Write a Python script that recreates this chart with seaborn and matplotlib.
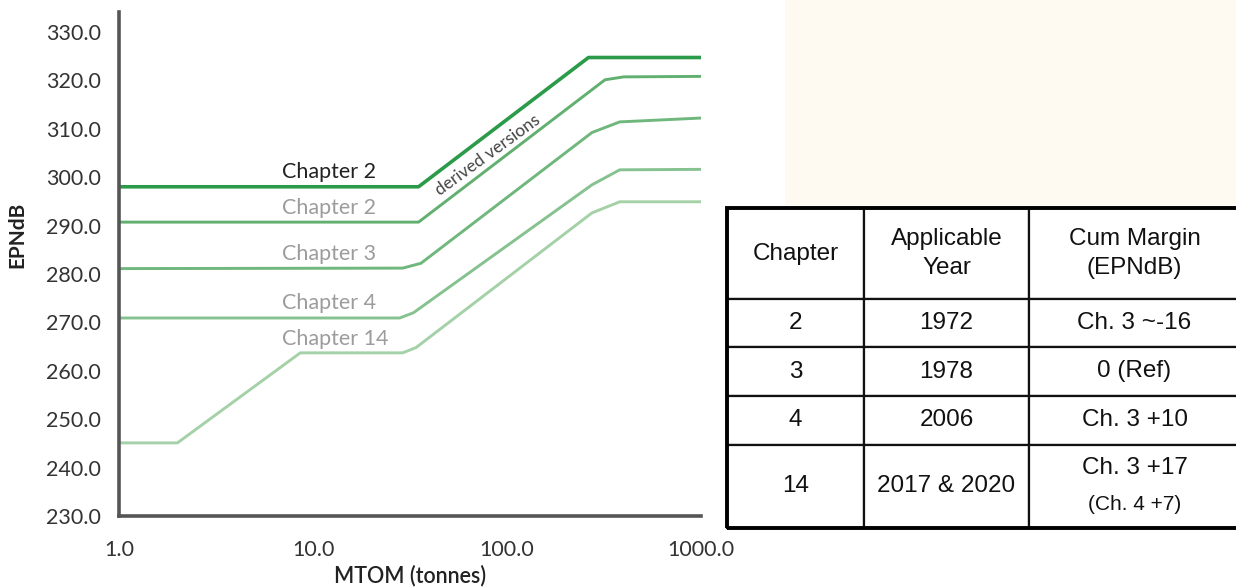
import matplotlib
matplotlib.use('Agg')
import matplotlib.pyplot as plt
import matplotlib.patches as mpatches
from matplotlib.ticker import FixedLocator, FuncFormatter, NullLocator
import seaborn as sns
import pandas as pd

# noise limit lines (MTOM in tonnes, limit in EPNdB)
ch2_old_mtom = [1, 35, 263, 1000]
ch2_old_db = [298.0, 298.0, 324.7, 324.7]
ch2_mtom = [1, 35, 320, 400, 1000]
ch2_db = [290.7, 290.7, 320.1, 320.7, 320.8]
ch3_mtom = [1, 29, 36, 274, 381, 1000]
ch3_db = [281.1, 281.2, 282.2, 309.2, 311.4, 312.2]
ch4_mtom = [1, 28, 33, 274, 381, 1000]
ch4_db = [270.9, 270.9, 272.0, 298.4, 301.5, 301.6]
ch14_mtom = [1, 2.0, 8.6, 29, 34, 274, 381, 1000]
ch14_db = [245.1, 245.1, 263.7, 263.7, 264.8, 292.6, 294.9, 294.9]

line_labels = ['Chapter 2', 'Chapter 2', 'Chapter 3', 'Chapter 4', 'Chapter 14']
label_db = [301.1, 293.6, 284.1, 274.0, 266.6]

x_ticks = [1, 10, 100, 1000]
y_ticks = [230, 240, 250, 260, 270, 280, 290, 300, 310, 320, 330]

# table contents
table_header = ['Chapter', 'Applicable\nYear', 'Cum Margin\n(EPNdB)']
table_chapter = ['2', '3', '4', '14']
table_year = ['1972', '1978', '2006', '2017 & 2020']
table_margin = ['Ch. 3 ~-16', '0 (Ref)', 'Ch. 3 +10', '']

sns.set_style('white')
plt.rcParams['font.family'] = ['Lato', 'DejaVu Sans']

fig = plt.figure(figsize=(12.36, 5.87), dpi=100)
fig.patches.append(mpatches.Rectangle((785 / 1236, 1 - 205 / 587), 1, 1,
                                      transform=fig.transFigure,
                                      facecolor='#fffaf1', edgecolor='none', zorder=0))

ax = fig.add_axes([119 / 1236, 1 - 516 / 587, (701 - 119) / 1236, (516 - 12) / 587])
ax.patch.set_alpha(0)

series = [
    (ch2_old_mtom, ch2_old_db, '#2b9a49', 2.6),
    (ch2_mtom, ch2_db, '#62b070', 2.1),
    (ch3_mtom, ch3_db, '#6fb77c', 2.1),
    (ch4_mtom, ch4_db, '#86c28f', 2.1),
    (ch14_mtom, ch14_db, '#a4d1a7', 2.1),
]
for xs, ys, col, lw in series:
    df = pd.DataFrame({'mtom': xs, 'epndb': ys})
    sns.lineplot(data=df, x='mtom', y='epndb', ax=ax, color=col, linewidth=lw)

ax.set_xscale('log')
ax.set_xlim(1, 1000)
ax.set_ylim(230, 334.1)

for i, (lab, yv) in enumerate(zip(line_labels, label_db)):
    ax.text(6.9, yv, lab, ha='left', va='center', fontsize=15.5,
            color='#222222' if i == 0 else '#9c9c9c')

ax.text(80, 304.6, 'derived versions', rotation=36, ha='center', va='center',
        fontsize=12.5, color='#444444', rotation_mode='anchor')

ax.xaxis.set_major_locator(FixedLocator(x_ticks))
ax.xaxis.set_minor_locator(NullLocator())
ax.xaxis.set_major_formatter(FuncFormatter(lambda v, p: f'{v:.1f}'))
ax.set_yticks(y_ticks)
ax.yaxis.set_major_formatter(FuncFormatter(lambda v, p: f'{v:.1f}'))

sns.despine(ax=ax)
for side in ['left', 'bottom']:
    ax.spines[side].set_color('#555555')
    ax.spines[side].set_linewidth(2.6)
ax.tick_params(axis='both', which='major', direction='out', length=6, width=2.4,
               color='#555555', labelsize=15.5, labelcolor='#333333')
ax.tick_params(axis='x', pad=11)
ax.tick_params(axis='y', pad=7)

ax.set_xlabel('MTOM (tonnes)', fontsize=15.5, fontweight='semibold', color='#222222')
ax.xaxis.set_label_coords(0.5, -0.097)
ax.set_ylabel('EPNdB', fontsize=15, fontweight='bold', color='#222222')
ax.yaxis.set_label_coords(-0.157, 0.557)

# table on the right
tax = fig.add_axes([727 / 1236, 1 - 528 / 587, 513 / 1236, 320 / 587])
tax.axis('off')
cells = [table_header] + [[c, y, m] for c, y, m in zip(table_chapter, table_year, table_margin)]
col_w = [137, 165, 211]
row_h = [91, 48, 49, 49, 83]
tbl = tax.table(cellText=cells, cellLoc='center', bbox=[0, 0, 1, 1])
tbl.auto_set_font_size(False)
for (r, c), cell in tbl.get_celld().items():
    cell.set_width(col_w[c])
    cell.set_height(row_h[r])
    cell.set_linewidth(1.6)
    cell.set_edgecolor('#111111')
    cell.set_facecolor('white')
    txt = cell.get_text()
    txt.set_fontfamily(['Liberation Sans', 'DejaVu Sans'])
    txt.set_fontsize(17.5)
    txt.set_color('#111111')
    txt.set_linespacing(1.45)

# last margin cell has two sizes of text
tax.text((137 + 165 + 211 / 2) / 513, 60 / 320, 'Ch. 3 +17', ha='center', va='center',
         fontsize=17.5, color='#111111', family=['Liberation Sans', 'DejaVu Sans'])
tax.text((137 + 165 + 211 / 2) / 513, 23 / 320, '(Ch. 4 +7)', ha='center', va='center',
         fontsize=15, color='#111111', family=['Liberation Sans', 'DejaVu Sans'])
tax.add_patch(mpatches.Rectangle((0, 0), 1, 1, transform=tax.transAxes, fill=False,
                                 edgecolor='#000000', linewidth=2.8, clip_on=False, zorder=5))

fig.savefig('out.png', dpi=100)
